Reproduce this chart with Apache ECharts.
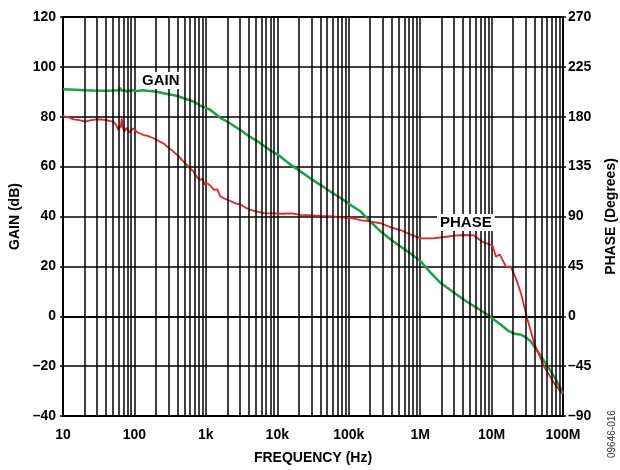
<!DOCTYPE html>
<html>
<head>
<meta charset="utf-8">
<script src="https://cdn.jsdelivr.net/npm/echarts@6/dist/echarts.min.js"></script>
<style>html,body{margin:0;padding:0;background:#fff}#c{width:620px;height:470px}</style>
</head>
<body>
<div id="c"></div>
<script>
// ---- data ----
var xTickLabels = ['10', '100', '1k', '10k', '100k', '1M', '10M', '100M'];
var gainTickValues = [-40, -20, 0, 20, 40, 60, 80, 100, 120];
var gainTickLabels = ['\u201340', '\u201320', '0', '20', '40', '60', '80', '100', '120'];
var phaseTickValues = [-90, -45, 0, 45, 90, 135, 180, 225, 270];
var phaseTickLabels = ['\u201390', '\u201345', '0', '45', '90', '135', '180', '225', '270'];

var gainFreq = [10, 15, 20, 27, 40, 51, 60, 63, 66, 72, 78, 90, 110, 130, 150, 180, 230, 300, 390, 500, 670, 840, 1150, 1600, 2200, 3000, 4000, 5800, 8000, 11000, 15000, 21000, 29000, 40000, 55000, 77000, 105000, 147000, 200000, 280000, 400000, 530000, 750000, 1020000, 1400000, 1940000, 2800000, 4100000, 6000000, 8800000, 11000000, 13500000, 17600000, 21000000, 25800000, 30000000, 35500000, 46000000, 61000000, 80000000, 100000000];
var gainDb = [91.0, 90.8, 90.6, 90.5, 90.4, 90.5, 90.6, 91.6, 90.4, 90.8, 90.1, 90.6, 90.3, 90.6, 90.4, 90.2, 89.7, 89.0, 88.4, 87.3, 86.1, 84.4, 82.8, 79.5, 77.3, 74.8, 72.3, 69.4, 66.5, 64.1, 61.0, 58.1, 55.3, 52.7, 50.0, 47.4, 44.7, 42.0, 38.0, 34.0, 30.5, 28.0, 25.0, 22.0, 17.5, 13.3, 10.0, 6.6, 3.6, 0.6, -1.5, -3.4, -6.1, -7.0, -7.4, -8.4, -10.1, -14.8, -20.1, -25.5, -31.0];

var phaseFreq = [10, 12, 14, 17, 20.4, 25, 29.7, 35, 41, 46, 50.8, 55, 59.7, 62, 64, 66.5, 69, 72, 77, 85, 97, 110, 134, 150, 185, 220, 255, 300, 352, 420, 487, 570, 673, 760, 835, 900, 950, 1040, 1150, 1300, 1450, 1600, 1800, 2200, 2600, 3000, 3500, 4200, 5200, 6500, 8500, 12000, 16000, 21000, 30000, 40000, 60000, 77000, 110000, 147000, 204000, 280000, 400000, 530000, 750000, 1020000, 1500000, 2200000, 3000000, 4100000, 5600000, 7500000, 10300000, 11500000, 13000000, 15900000, 18600000, 21900000, 25800000, 32000000, 39600000, 54600000, 75400000, 93000000, 100000000];
var phaseDeg = [180.5, 179.5, 177.7, 177, 175.5, 177, 177.7, 177.5, 177, 176, 175.5, 173, 168, 172, 170, 178.6, 170, 166.5, 170, 166, 169.6, 166, 163.5, 163, 160.6, 158, 156, 152, 148.5, 144, 139.5, 135, 130.4, 125, 123, 124, 119, 120, 118, 114, 114.5, 108, 106.4, 104, 101.9, 101, 98.5, 95.9, 94.5, 93, 92.9, 92.5, 92.9, 91.4, 91, 90.5, 90, 89.3, 88.5, 86.8, 85.3, 83.9, 80, 77.8, 73.5, 70.3, 70.3, 71.5, 72.8, 73.3, 73, 67, 64, 53.7, 55.8, 44.7, 44.7, 34.2, 20.7, -3.4, -24.4, -45.5, -60.5, -68, -70];

function zip(a, b) { return a.map(function (v, i) { return [v, b[i]]; }); }

// minor vertical grid lines at 2..9 of every decade
var minorLines = [];
for (var e = 1; e < 8; e++) {
  for (var m = 2; m <= 9; m++) minorLines.push({ xAxis: m * Math.pow(10, e) });
}

var FONT = 'Liberation Sans';
var labelStyle = { color: '#000', fontFamily: FONT, fontWeight: 'bold', fontSize: 14 };

function lookup(vals, labels) {
  return function (v) {
    for (var i = 0; i < vals.length; i++) if (Math.abs(vals[i] - v) < 1e-6) return labels[i];
    return '';
  };
}

var chart = echarts.init(document.getElementById('c'), null, { renderer: 'canvas' });
chart.setOption({
  animation: false,
  backgroundColor: '#fff',
  grid: { left: 63, right: 57, top: 17, bottom: 54, containLabel: false, outerBoundsMode: 'none',
          show: true, borderColor: '#000', borderWidth: 2, backgroundColor: 'transparent' },
  xAxis: {
    type: 'log', logBase: 10, min: 10, max: 100000000, splitNumber: 7,
    name: 'FREQUENCY (Hz)', nameLocation: 'middle', nameGap: 35,
    nameTextStyle: labelStyle,
    axisLine: { show: true, lineStyle: { color: '#000', width: 2 } },
    axisTick: { show: false },
    axisLabel: Object.assign({ margin: 12, formatter: function (v) {
      var i = Math.round(Math.log10(v)) - 1; return xTickLabels[i] || '';
    } }, labelStyle),
    splitLine: { show: true, lineStyle: { color: '#000', width: 1.5 } },
    minorTick: { show: false }, minorSplitLine: { show: false }
  },
  yAxis: [{
    type: 'value', min: -40, max: 120, interval: 20, position: 'left',
    name: 'GAIN (dB)', nameLocation: 'middle', nameGap: 38,
    nameTextStyle: labelStyle,
    axisLine: { show: true, lineStyle: { color: '#000', width: 2 } },
    axisTick: { show: true, length: 3, lineStyle: { color: '#000', width: 1.5 } },
    axisLabel: Object.assign({ margin: 7, formatter: lookup(gainTickValues, gainTickLabels) }, labelStyle),
    splitLine: { show: true, lineStyle: { color: '#000', width: 1.5 } }
  }, {
    type: 'value', min: -90, max: 270, interval: 45, position: 'right',
    name: 'PHASE (Degrees)', nameLocation: 'middle', nameGap: 41,
    nameTextStyle: labelStyle,
    axisLine: { show: true, lineStyle: { color: '#000', width: 2 } },
    axisTick: { show: true, length: 3, lineStyle: { color: '#000', width: 1.5 } },
    axisLabel: Object.assign({ margin: 5, formatter: lookup(phaseTickValues, phaseTickLabels) }, labelStyle),
    splitLine: { show: false }
  }],
  series: [{
    type: 'line', data: [], silent: true, z: 1,
    markLine: {
      silent: true, symbol: ['none', 'none'], animation: false,
      label: { show: false },
      lineStyle: { color: '#000', width: 1.5, type: 'solid' },
      data: minorLines
    }
  }, {
    name: 'GAIN', type: 'line', yAxisIndex: 0, z: 3,
    data: zip(gainFreq, gainDb), showSymbol: false, symbol: 'none',
    lineStyle: { color: '#1f9f48', width: 2.5 }
  }, {
    name: 'PHASE', type: 'line', yAxisIndex: 1, z: 4,
    data: zip(phaseFreq, phaseDeg), showSymbol: false, symbol: 'none',
    lineStyle: { color: '#ec2227', width: 1.8 }
  }],
  graphic: [{
    type: 'text', left: 139, top: 72, z: 10,
    style: { text: 'GAIN', fill: '#000', font: 'bold 15px "Liberation Sans"', backgroundColor: '#fff', padding: [1, 3, 1, 3] }
  }, {
    type: 'text', left: 437, top: 214, z: 10,
    style: { text: 'PHASE', fill: '#000', font: 'bold 15px "Liberation Sans"', backgroundColor: '#fff', padding: [1, 3, 1, 3] }
  }, {
    type: 'text', x: 607, y: 458, rotation: Math.PI / 2, z: 10,
    style: { text: '09646-016', fill: '#333', font: '10px "Liberation Sans"' }
  }]
});
</script>
</body>
</html>
